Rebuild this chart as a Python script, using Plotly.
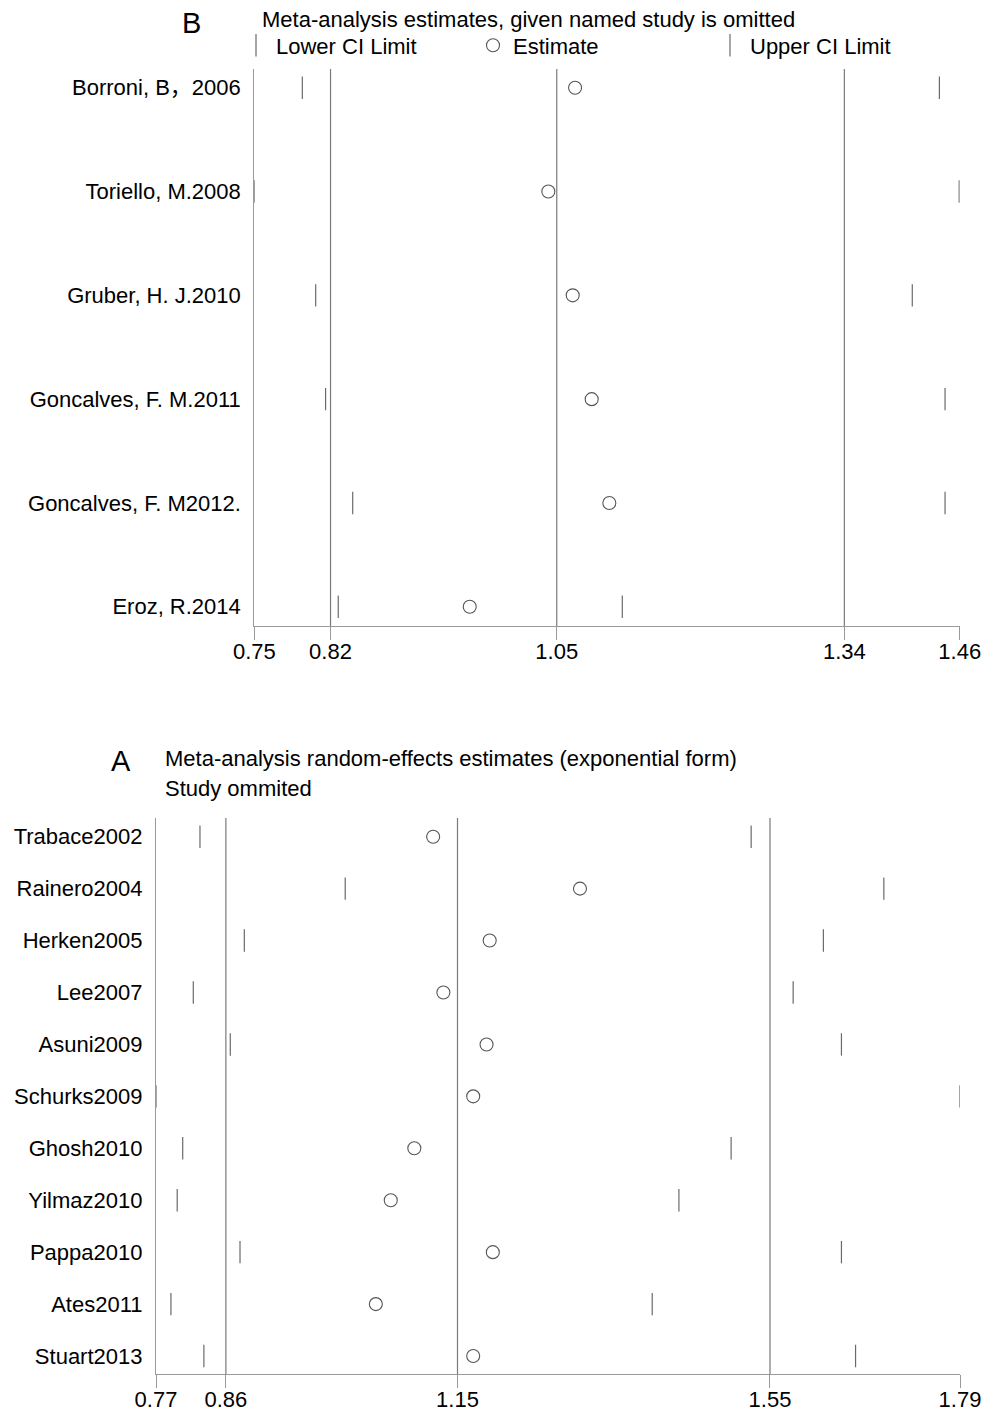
import plotly.graph_objects as go

# Page body has an 8px margin; figure is sized so it fills the 1005x1412 window.
PAGE_OFF = 8
W, H = 1005 - PAGE_OFF, 1412 - PAGE_OFF
FONT = "Liberation Sans, Arial, Noto Sans CJK SC, sans-serif"

# ---------------- Panel B data ----------------
b_studies = ["Borroni, B，2006", "Toriello, M.2008", "Gruber, H. J.2010",
             "Goncalves, F. M.2011", "Goncalves, F. M2012.", "Eroz, R.2014"]
b_lower = [0.7945, 0.746, 0.808, 0.818, 0.8454, 0.8308]
b_est = [1.070, 1.043, 1.0676, 1.0868, 1.1046, 0.9636]
b_upper = [1.438, 1.458, 1.4106, 1.4437, 1.4437, 1.1177]
b_overall = [0.823, 1.0515, 1.342]
b_ticks = [0.746, 0.823, 1.0515, 1.342, 1.4585]
b_ticklabels = ["0.75", "0.82", "1.05", "1.34", "1.46"]

# ---------------- Panel A data ----------------
a_studies = ["Trabace2002", "Rainero2004", "Herken2005", "Lee2007", "Asuni2009",
             "Schurks2009", "Ghosh2010", "Yilmaz2010", "Pappa2010", "Ates2011", "Stuart2013"]
a_lower = [0.824, 1.009, 0.8805, 0.8155, 0.8626, 0.768, 0.802, 0.795, 0.875, 0.787, 0.829]
a_est = [1.121, 1.308, 1.193, 1.134, 1.189, 1.172, 1.097, 1.067, 1.197, 1.048, 1.172]
a_upper = [1.526, 1.695, 1.618, 1.5795, 1.641, 1.792, 1.5005, 1.434, 1.641, 1.400, 1.659]
a_overall = [0.857, 1.152, 1.550]
a_ticks = [0.768, 0.857, 1.152, 1.550, 1.792]
a_ticklabels = ["0.77", "0.86", "1.15", "1.55", "1.79"]

REF = "#7a7a7a"
AX = "#9a9a9a"
MK = "#555555"


def px_x(p):
    return (p - PAGE_OFF) / W


def px_y(p):
    return 1 - (p - PAGE_OFF) / H


fig = go.Figure()

b_rows = list(range(1, len(b_studies) + 1))
a_rows = list(range(1, len(a_studies) + 1))

ci_marker = dict(symbol="line-ns", size=16, line=dict(width=1.2, color="#6a6a6a"), color="#6a6a6a")
est_marker = dict(symbol="circle-open", size=13, color=MK, line=dict(width=1.1, color=MK))

fig.add_trace(go.Scatter(x=b_lower, y=b_rows, mode="markers", marker=ci_marker,
                         name="Lower CI Limit", xaxis="x", yaxis="y", showlegend=True))
fig.add_trace(go.Scatter(x=b_est, y=b_rows, mode="markers", marker=est_marker,
                         name="Estimate", xaxis="x", yaxis="y", showlegend=True))
fig.add_trace(go.Scatter(x=b_upper, y=b_rows, mode="markers", marker=ci_marker,
                         name="Upper CI Limit", xaxis="x", yaxis="y", showlegend=True))

fig.add_trace(go.Scatter(x=a_lower, y=a_rows, mode="markers", marker=ci_marker,
                         name="Lower CI Limit", xaxis="x2", yaxis="y2", showlegend=False))
fig.add_trace(go.Scatter(x=a_est, y=a_rows, mode="markers", marker=est_marker,
                         name="Estimate", xaxis="x2", yaxis="y2", showlegend=False))
fig.add_trace(go.Scatter(x=a_upper, y=a_rows, mode="markers", marker=ci_marker,
                         name="Upper CI Limit", xaxis="x2", yaxis="y2", showlegend=False))

shapes = []
for v in b_overall:
    shapes.append(dict(type="line", xref="x", yref="y domain", x0=v, x1=v, y0=0, y1=1,
                       line=dict(color=REF, width=1.2)))
for v in a_overall:
    shapes.append(dict(type="line", xref="x2", yref="y2 domain", x0=v, x1=v, y0=0, y1=1,
                       line=dict(color=REF, width=1.2)))

xaxis_common = dict(showgrid=False, zeroline=False, showline=True, linecolor=AX, linewidth=1.2,
                    ticks="outside", ticklen=13, tickcolor=AX, tickwidth=1.2,
                    ticklabelstandoff=-8,
                    tickfont=dict(family=FONT, size=22, color="black"))
yaxis_common = dict(showgrid=False, zeroline=False, showline=True, linecolor=AX, linewidth=1.2,
                    ticks="", ticklabelstandoff=8,
                    tickfont=dict(family=FONT, size=22, color="black"))

fig.update_layout(
    width=W, height=H,
    margin=dict(l=0, r=0, t=0, b=0, autoexpand=False),
    paper_bgcolor="white", plot_bgcolor="white",
    font=dict(family=FONT, size=22, color="black"),
    xaxis=dict(**xaxis_common, domain=[px_x(254.3), px_x(959.7)],
               range=[b_ticks[0], b_ticks[-1]], tickvals=b_ticks, ticktext=b_ticklabels,
               anchor="y"),
    yaxis=dict(**yaxis_common, domain=[px_y(626), px_y(69)],
               range=[len(b_studies) + 0.185, 0.82], tickvals=b_rows, ticktext=b_studies,
               anchor="x"),
    xaxis2=dict(**xaxis_common, domain=[px_x(156), px_x(960)],
                range=[a_ticks[0], a_ticks[-1]], tickvals=a_ticks, ticktext=a_ticklabels,
                anchor="y2"),
    yaxis2=dict(**yaxis_common, domain=[px_y(1374.3), px_y(818)],
                range=[len(a_studies) + 0.352, 0.64], tickvals=a_rows, ticktext=a_studies,
                anchor="x2"),
    shapes=shapes,
    showlegend=True,
    legend=dict(orientation="h", x=px_x(236), xanchor="left", y=px_y(45.5), yanchor="middle",
                entrywidth=192, entrywidthmode="pixels", bgcolor="rgba(0,0,0,0)",
                font=dict(family=FONT, size=22, color="black"), itemclick=False,
                traceorder="normal"),
    annotations=[
        dict(text="B", x=px_x(191), y=px_y(23), xref="paper", yref="paper",
             xanchor="center", yanchor="middle", showarrow=False, borderpad=0,
             font=dict(family=FONT, size=29, color="black")),
        dict(text="Meta-analysis estimates, given named study is omitted",
             x=px_x(261), y=px_y(19), xref="paper", yref="paper",
             xanchor="left", yanchor="middle", showarrow=False, borderpad=0,
             font=dict(family=FONT, size=22, color="black")),
        dict(text="A", x=px_x(121), y=px_y(761), xref="paper", yref="paper",
             xanchor="center", yanchor="middle", showarrow=False,
             font=dict(family=FONT, size=29, color="black")),
        dict(text="Meta-analysis random-effects estimates (exponential form)",
             x=px_x(163), y=px_y(759), xref="paper", yref="paper",
             xanchor="left", yanchor="middle", showarrow=False,
             font=dict(family=FONT, size=22, color="black")),
        dict(text="Study ommited",
             x=px_x(163), y=px_y(788), xref="paper", yref="paper",
             xanchor="left", yanchor="middle", showarrow=False,
             font=dict(family=FONT, size=22, color="black")),
    ],
)

fig.write_html("out.html")
